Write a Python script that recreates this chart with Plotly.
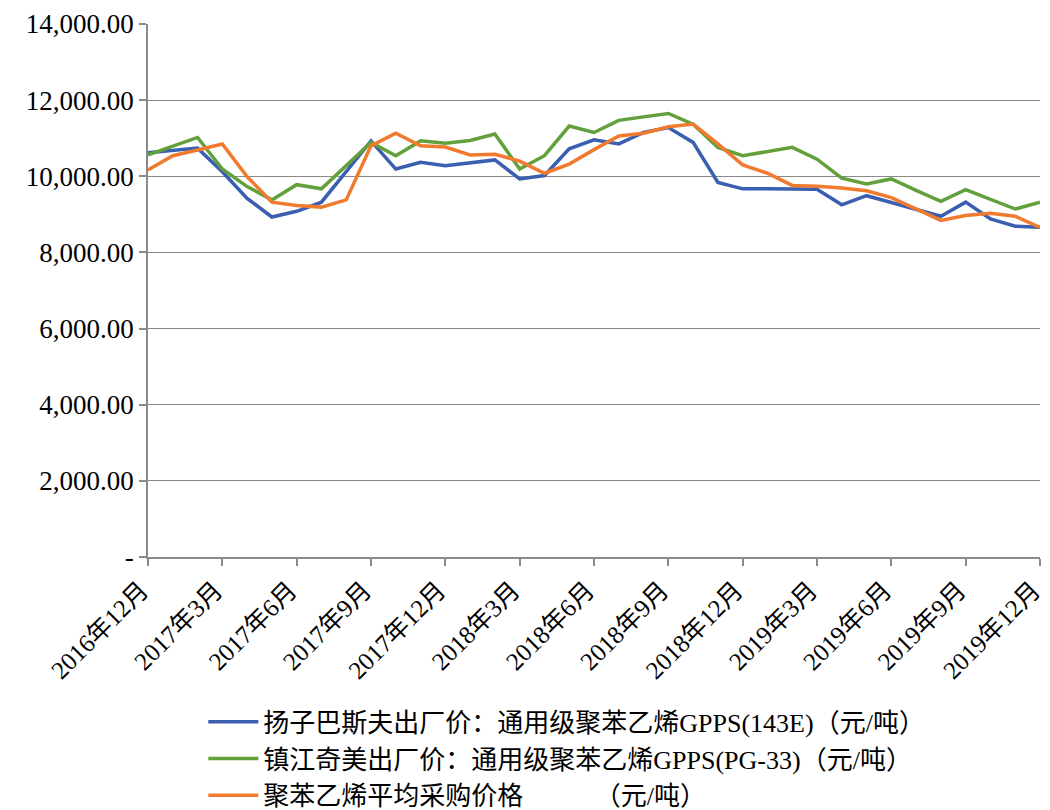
import plotly.graph_objects as go

months = [
    "2016年12月", "2017年1月", "2017年2月", "2017年3月", "2017年4月", "2017年5月",
    "2017年6月", "2017年7月", "2017年8月", "2017年9月", "2017年10月", "2017年11月",
    "2017年12月", "2018年1月", "2018年2月", "2018年3月", "2018年4月", "2018年5月",
    "2018年6月", "2018年7月", "2018年8月", "2018年9月", "2018年10月", "2018年11月",
    "2018年12月", "2019年1月", "2019年2月", "2019年3月", "2019年4月", "2019年5月",
    "2019年6月", "2019年7月", "2019年8月", "2019年9月", "2019年10月", "2019年11月",
    "2019年12月",
]

yangzi_basf = [
    10620, 10680, 10740, 10120, 9420, 8930, 9080, 9320, 10130, 10930,
    10190, 10370, 10280, 10360, 10430, 9930, 10020, 10720, 10960, 10850,
    11150, 11280, 10890, 9840, 9670, 9670, 9670, 9660, 9250, 9490,
    9310, 9130, 8950, 9320, 8880, 8690, 8660,
]

zhenjiang_chimei = [
    10560, 10790, 11020, 10190, 9730, 9380, 9780, 9670, 10280, 10890,
    10540, 10930, 10870, 10940, 11110, 10190, 10540, 11320, 11150, 11470,
    11560, 11650, 11370, 10760, 10540, 10650, 10760, 10450, 9950, 9800,
    9930, 9630, 9340, 9650, 9400, 9140, 9320,
]

avg_purchase = [
    10165, 10540, 10690, 10850, 9990, 9320, 9230, 9190, 9380, 10800,
    11130, 10800, 10770, 10560, 10580, 10400, 10080, 10320, 10700, 11060,
    11130, 11300, 11370, 10850, 10300, 10080, 9760, 9740, 9690, 9620,
    9440, 9140, 8840, 8970, 9030, 8950, 8660,
]

series_names = [
    "扬子巴斯夫出厂价：通用级聚苯乙烯GPPS(143E)（元/吨）",
    "镇江奇美出厂价：通用级聚苯乙烯GPPS(PG-33)（元/吨）",
    "聚苯乙烯平均采购价格" + "\u00a0" * 11 + "（元/吨）",
]

x_tick_labels = [
    "2016年12月", "2017年3月", "2017年6月", "2017年9月", "2017年12月",
    "2018年3月", "2018年6月", "2018年9月", "2018年12月", "2019年3月",
    "2019年6月", "2019年9月", "2019年12月",
]

y_tick_values = [0, 2000, 4000, 6000, 8000, 10000, 12000, 14000]
y_tick_labels = ["-", "2,000.00", "4,000.00", "6,000.00", "8,000.00",
                 "10,000.00", "12,000.00", "14,000.00"]

colors = ["#3A5FB0", "#62A03C", "#F07A2E"]
serif = "Liberation Serif, 'Noto Sans CJK SC', serif"

fig = go.Figure()
for i, (name, vals, col) in enumerate(zip(series_names, [yangzi_basf, zhenjiang_chimei, avg_purchase], colors)):
    fig.add_trace(go.Scatter(
        x=months, y=vals, mode="lines", name=name, legendgroup=f"g{i}",
        line=dict(color=col, width=3.5),
    ))

fig.update_layout(
    width=1050, height=810,
    margin=dict(l=148, r=10, t=24, b=253, autoexpand=False),
    paper_bgcolor="white", plot_bgcolor="white",
    font=dict(family=serif, color="black", size=26),
    showlegend=True,
    legend=dict(
        x=0.062, y=-0.265, xanchor="left", yanchor="top",
        orientation="v", bgcolor="rgba(0,0,0,0)",
        font=dict(family=serif, size=26, color="black"),
        itemwidth=50, tracegroupgap=0,
    ),
)

fig.update_xaxes(
    type="category", categoryorder="array", categoryarray=months,
    range=[0, 36], automargin=False,
    tickmode="array", tickvals=x_tick_labels, ticktext=x_tick_labels,
    tickangle=-45, tickfont=dict(family=serif, size=25, color="black"),
    ticklabelshift=-7,
    showline=True, linecolor="#8a8a8a", linewidth=1.5,
    ticks="outside", ticklen=7, tickcolor="#8a8a8a", tickwidth=1.5,
    showgrid=False, zeroline=False,
)
fig.update_yaxes(
    range=[0, 14000], automargin=False,
    tickmode="array", tickvals=y_tick_values, ticktext=y_tick_labels,
    tickfont=dict(family=serif, size=27, color="black"),
    showline=True, linecolor="#8a8a8a", linewidth=1.5,
    ticks="outside", ticklen=7, tickcolor="#8a8a8a", tickwidth=1.5,
    showgrid=True, gridcolor="#8a8a8a", gridwidth=1.2,
    zeroline=False,
)

fig.write_html("out.html")
